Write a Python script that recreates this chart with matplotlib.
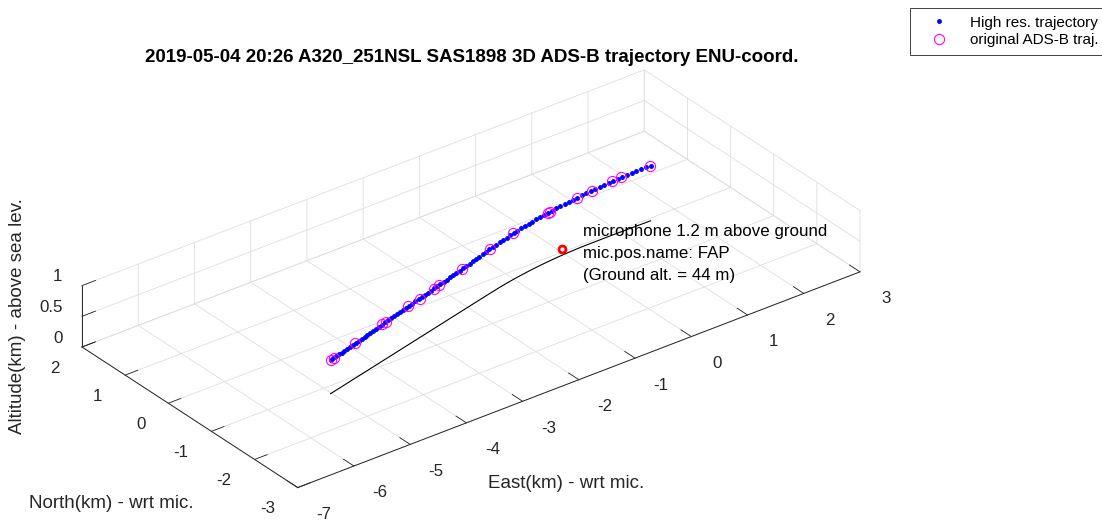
import matplotlib
matplotlib.use('Agg')
import matplotlib.pyplot as plt
from mpl_toolkits.mplot3d import proj3d

plt.rcParams['font.family'] = ['Liberation Sans', 'DejaVu Sans']
plt.rcParams['axes.unicode_minus'] = False
plt.rcParams['grid.color'] = '#dedede'
plt.rcParams['grid.linewidth'] = 0.6
plt.rcParams['xtick.major.width'] = 0.6
plt.rcParams['ytick.major.width'] = 0.6

TITLE = '2019-05-04 20:26 A320_251NSL SAS1898 3D ADS-B trajectory ENU-coord.'

# high resolution trajectory (km, relative to the microphone)
east_hr = [-5.020, -4.959, -4.898, -4.836, -4.775, -4.713, -4.650, -4.588, -4.525, -4.462,
           -4.399, -4.336, -4.272, -4.208, -4.144, -4.079, -4.015, -3.950, -3.885, -3.819,
           -3.754, -3.688, -3.622, -3.555, -3.489, -3.422, -3.355, -3.287, -3.220, -3.152,
           -3.084, -3.015, -2.947, -2.878, -2.809, -2.740, -2.670, -2.600, -2.530, -2.460,
           -2.389, -2.319, -2.248, -2.176, -2.105, -2.033, -1.961, -1.889, -1.816, -1.744,
           -1.671, -1.597, -1.524, -1.450, -1.376, -1.302, -1.228, -1.153, -1.078, -1.003,
           -0.928, -0.852, -0.776, -0.700, -0.624, -0.547, -0.470, -0.393, -0.315, -0.238,
           -0.160, -0.082, -0.003, 0.075, 0.154, 0.233, 0.313, 0.392, 0.472, 0.552,
           0.633, 0.713, 0.794, 0.875, 0.956, 1.038, 1.120, 1.202, 1.284, 1.367,
           1.449, 1.532]
north_hr = [-1.180, -1.165, -1.150, -1.134, -1.119, -1.103, -1.088, -1.072, -1.056, -1.041,
            -1.025, -1.009, -0.993, -0.977, -0.961, -0.945, -0.929, -0.913, -0.896, -0.880,
            -0.864, -0.847, -0.831, -0.814, -0.797, -0.781, -0.764, -0.747, -0.730, -0.713,
            -0.696, -0.679, -0.662, -0.645, -0.627, -0.610, -0.593, -0.575, -0.558, -0.540,
            -0.522, -0.505, -0.487, -0.469, -0.451, -0.433, -0.415, -0.397, -0.379, -0.361,
            -0.343, -0.324, -0.306, -0.288, -0.270, -0.253, -0.237, -0.221, -0.206, -0.191,
            -0.177, -0.164, -0.152, -0.140, -0.129, -0.119, -0.109, -0.100, -0.092, -0.084,
            -0.077, -0.071, -0.066, -0.061, -0.058, -0.054, -0.052, -0.051, -0.050, -0.050,
            -0.050, -0.050, -0.050, -0.050, -0.051, -0.052, -0.053, -0.054, -0.055, -0.056,
            -0.057, -0.058]
alt_hr = [0.545, 0.548, 0.551, 0.554, 0.557, 0.559, 0.562, 0.565, 0.568, 0.571,
          0.574, 0.577, 0.580, 0.583, 0.586, 0.589, 0.592, 0.595, 0.598, 0.601,
          0.605, 0.608, 0.611, 0.614, 0.617, 0.620, 0.623, 0.626, 0.629, 0.633,
          0.636, 0.639, 0.643, 0.646, 0.650, 0.653, 0.657, 0.660, 0.664, 0.667,
          0.671, 0.674, 0.678, 0.681, 0.685, 0.688, 0.693, 0.697, 0.702, 0.707,
          0.711, 0.716, 0.721, 0.726, 0.731, 0.735, 0.740, 0.745, 0.750, 0.755,
          0.759, 0.764, 0.768, 0.773, 0.778, 0.782, 0.787, 0.791, 0.796, 0.801,
          0.805, 0.810, 0.815, 0.821, 0.827, 0.834, 0.840, 0.846, 0.853, 0.858,
          0.863, 0.868, 0.873, 0.878, 0.882, 0.886, 0.888, 0.891, 0.893, 0.895,
          0.898, 0.900]

# raw ADS-B reports
east_adsb = [-5.02, -4.95, -4.48, -3.88, -3.80, -3.31, -3.06, -2.75, -2.63, -2.13,
             -1.50, -1.01, -0.31, -0.28, 0.23, 0.49, 0.86, 1.02, 1.53]
north_adsb = [-1.180, -1.163, -1.045, -0.895, -0.875, -0.753, -0.690, -0.613, -0.583, -0.458,
              -0.300, -0.193, -0.091, -0.089, -0.055, -0.050, -0.050, -0.051, -0.058]
alt_adsb = [0.545, 0.548, 0.570, 0.599, 0.602, 0.625, 0.637, 0.653, 0.659, 0.684,
            0.723, 0.754, 0.796, 0.798, 0.833, 0.854, 0.877, 0.886, 0.900]

# microphone
mic_name = 'FAP'
mic_height_m = 1.2
ground_alt_m = 44
mic_alt = (ground_alt_m + mic_height_m) / 1000

east_ticks = list(range(-7, 4))
north_ticks = list(range(-3, 3))
alt_ticks = [0, 0.5, 1]
alt_ticklabels = ['0', '0.5', '1']

AX_COLOR = '#262626'
TICK_FS = 12.2
LABEL_FS = 13.5

fig = plt.figure(figsize=(11.02, 5.2), dpi=100)
ax = fig.add_axes([0.05, -0.33, 0.73, 1.546], projection='3d',
                  proj_type='ortho', computed_zorder=False)
ax.set_box_aspect((10, 5, 1))
ax.view_init(elev=30, azim=-127.5)

ax.plot(east_hr, north_hr, [0] * len(east_hr), color='k', lw=0.8, zorder=2)
h_hr, = ax.plot(east_hr, north_hr, alt_hr, '.', color='#0000ff', ms=5, zorder=3,
                label='High res. trajectory')
h_adsb, = ax.plot(east_adsb, north_adsb, alt_adsb, 'o', mfc='none', mec='#ff00ff',
                  ms=7.3, mew=0.8, zorder=4, label='original ADS-B traj.')
ax.plot([0], [0], [mic_alt], 'o', mfc='none', mec='#ff0000', ms=5, mew=2, zorder=5)

ax.set_xlim(-7, 3, view_margin=0)
ax.set_ylim(-3, 2, view_margin=0)
ax.set_zlim(0, 1, view_margin=0)
ax.set_xticks(east_ticks)
ax.set_yticks(north_ticks)
ax.set_zticks(alt_ticks)
ax.tick_params(axis='both', colors=AX_COLOR, labelcolor=(1, 1, 1, 0))
ax.tick_params(axis='z', colors=AX_COLOR, labelcolor=(1, 1, 1, 0))

for axis in (ax.xaxis, ax.yaxis, ax.zaxis):
    axis.set_pane_color((1, 1, 1, 0))
    axis.pane.set_edgecolor((1, 1, 1, 0))
    axis.line.set_color(AX_COLOR)
    axis.line.set_linewidth(0.7)
ax.xaxis._axinfo['tick'].update(inward_factor=0, outward_factor=0.6)
ax.yaxis._axinfo['tick'].update(inward_factor=0, outward_factor=0.28)
ax.zaxis._axinfo['tick'].update(inward_factor=0, outward_factor=0.3)

# put the box corners where they belong on the canvas
fig.canvas.draw()
W, H = fig.bbox.width, fig.bbox.height


def to_px(x, y, z):
    xs, ys, _ = proj3d.proj_transform(x, y, z, ax.get_proj())
    return ax.transData.transform((xs, ys))


p1 = to_px(-7, 2, 0)
p2 = to_px(3, -3, 0)
t1 = (82, H - 347)
t2 = (860, H - 272)
s = (t2[0] - t1[0]) / (p2[0] - p1[0])
bb = ax.get_position()
ox, oy = bb.x0 * W, bb.y0 * H
nx = t1[0] - s * (p1[0] - ox)
ny = t1[1] - s * (p1[1] - oy)
ax.set_position([nx / W, ny / H, bb.width * s, bb.height * s])


def label_at(x, y, z, text, **kw):
    px, py = to_px(x, y, z)
    return fig.text(px / W, py / H, text, **kw)


# tick labels just outside the front edges (offsets in km)
for e in east_ticks:
    label_at(e - 0.173, -3 - 0.826, 0, str(e), ha='center', va='center',
             fontsize=TICK_FS, color=AX_COLOR)
for n in north_ticks:
    label_at(-7 - 0.617, n - 0.274, 0, str(n), ha='right', va='center',
             fontsize=TICK_FS, color=AX_COLOR)
for z, lab in zip(alt_ticks, alt_ticklabels):
    label_at(-7 - 0.069, 2 + 0.361, z, lab, ha='right', va='center',
             fontsize=TICK_FS, color=AX_COLOR)

label_at(0.167, -0.269, mic_alt,
         'microphone %.1f m above ground\nmic.pos.name: %s\n(Ground alt. = %d m)'
         % (mic_height_m, mic_name, ground_alt_m),
         ha='left', va='center', fontsize=TICK_FS, linespacing=1.55, color='k')

fig.text(472 / W, 1 - 57 / H, TITLE, ha='center', va='center',
         fontsize=LABEL_FS, fontweight='bold', color='k')
fig.text(566 / W, 1 - 483 / H, 'East(km) - wrt mic.', ha='center', va='center',
         fontsize=LABEL_FS, color=AX_COLOR)
fig.text(111 / W, 1 - 503 / H, 'North(km) - wrt mic.', ha='center', va='center',
         fontsize=LABEL_FS, color=AX_COLOR)
fig.text(18 / W, 1 - 316 / H, 'Altitude(km) - above sea lev.', ha='center', va='center',
         rotation=90, fontsize=LABEL_FS, color=AX_COLOR)

leg = fig.legend(handles=[h_hr, h_adsb], loc='upper left',
                 bbox_to_anchor=(910 / W, 1 - 8 / H), borderaxespad=0,
                 fontsize=11, numpoints=1, fancybox=False, framealpha=1,
                 edgecolor=AX_COLOR, borderpad=0.5, handlelength=2.79,
                 handletextpad=0.63, labelspacing=0.22)
leg.get_frame().set_linewidth(0.6)

fig.savefig('out.png', dpi=100)
